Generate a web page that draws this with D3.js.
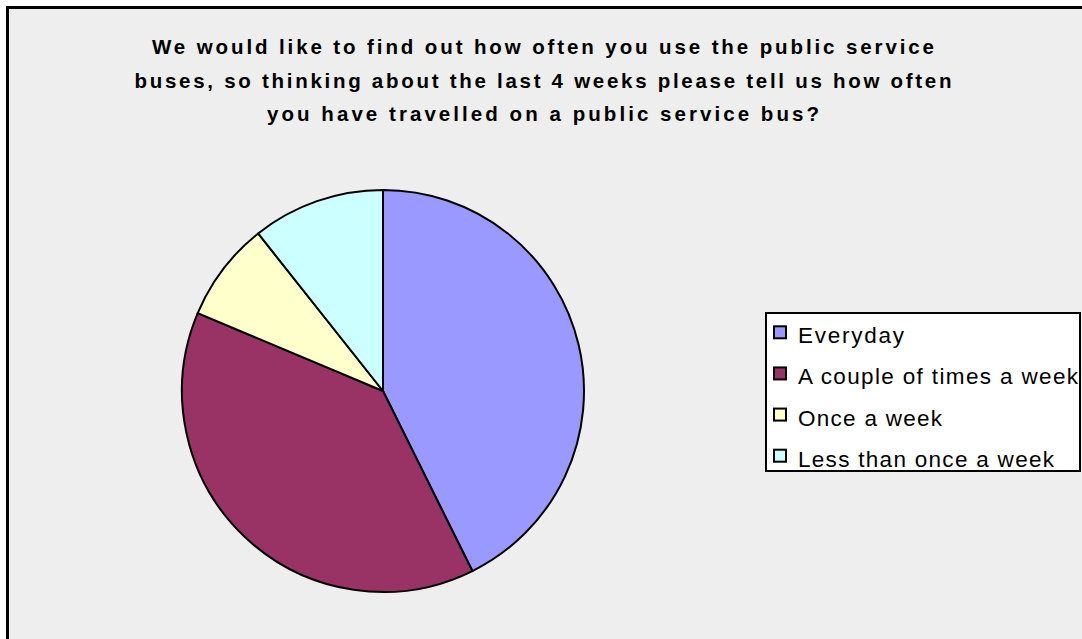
<!DOCTYPE html>
<html>
<head>
<meta charset="utf-8">
<script src="https://cdn.jsdelivr.net/npm/d3@7"></script>
<style>
  html, body { margin: 0; padding: 0; background: #ffffff; }
  svg { display: block; }
  text { font-family: "Liberation Sans", Arial, sans-serif; fill: #000; }
</style>
</head>
<body>
<svg id="chart" width="1082" height="639"></svg>
<script>
// Survey responses (number of respondents)
const categories = ["Everyday", "A couple of times a week", "Once a week", "Less than once a week"];
const counts = [32, 29, 6, 8];
const colors = ["#9999ff", "#993366", "#ffffcc", "#ccffff"];

const titleLines = [
  "We would like to find out how often you use the public service",
  "buses, so thinking about the last 4 weeks please tell us how often",
  "you have travelled on a public service bus?"
];
const titleWidths = [782, 817, 552];
const legendWidths = [106, 280, 144, 256];

const svg = d3.select("#chart");

// chart area with heavy frame
svg.append("rect")
  .attr("x", 7.5).attr("y", 7.5)
  .attr("width", 1200).attr("height", 800)
  .attr("fill", "#eeeeee")
  .attr("stroke", "#000").attr("stroke-width", 3);

// title
const title = svg.append("g");
titleLines.forEach((line, i) => {
  title.append("text")
    .attr("x", 543)
    .attr("y", 54 + i * 33.5)
    .attr("text-anchor", "middle")
    .attr("font-size", 20.5)
    .attr("font-weight", "bold")
    .attr("textLength", titleWidths[i])
    .attr("lengthAdjust", "spacing")
    .text(line);
});

// pie
const cx = 383, cy = 391, radius = 201;
const pie = d3.pie().sort(null).value(d => d.value);
const arc = d3.arc().innerRadius(0).outerRadius(radius);
const data = categories.map((c, i) => ({ name: c, value: counts[i], color: colors[i] }));

svg.append("g")
  .attr("transform", `translate(${cx},${cy})`)
  .selectAll("path")
  .data(pie(data))
  .join("path")
  .attr("d", arc)
  .attr("fill", d => d.data.color)
  .attr("stroke", "#000")
  .attr("stroke-width", 2)
  .attr("stroke-linejoin", "round");

// legend
const legend = svg.append("g");
legend.append("rect")
  .attr("x", 766).attr("y", 313)
  .attr("width", 314).attr("height", 158)
  .attr("fill", "#ffffff")
  .attr("stroke", "#000").attr("stroke-width", 2);

const rowY = d3.scalePoint().domain(categories).range([343.3, 466.7]);

const rows = legend.selectAll("g.row")
  .data(data)
  .join("g")
  .attr("class", "row");

rows.append("rect")
  .attr("x", 774)
  .attr("y", d => rowY(d.name) - 17)
  .attr("width", 12).attr("height", 12)
  .attr("fill", d => d.color)
  .attr("stroke", "#000").attr("stroke-width", 2);

rows.append("text")
  .attr("x", 798)
  .attr("y", d => rowY(d.name))
  .attr("font-size", 22.5)
  .attr("textLength", (d, i) => legendWidths[i])
  .attr("lengthAdjust", "spacing")
  .text(d => d.name);
</script>
</body>
</html>
